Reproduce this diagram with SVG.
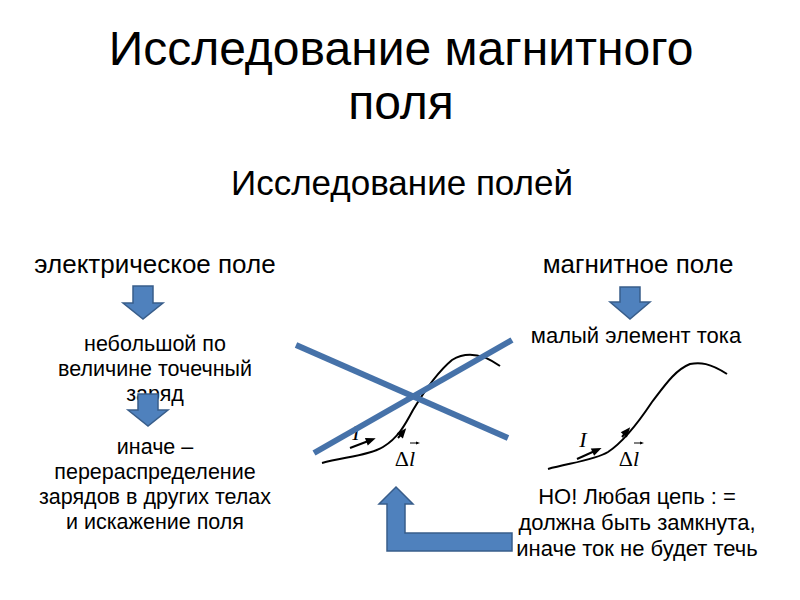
<svg xmlns="http://www.w3.org/2000/svg" width="800" height="600" viewBox="0 0 800 600">
<style>
text{font-family:"Liberation Sans",Arial,sans-serif;fill:#000;text-anchor:middle}
.t1{font-size:48px}
.t2{font-size:35px}
.t3{font-size:26px}
.t4{font-size:21.5px}
.t5{font-size:22px}
.arr{fill:#4f81bd;stroke:#385d8a;stroke-width:1.5}
.xl{stroke:#4672a9;stroke-width:6;fill:none}
.cv{stroke:#000;stroke-width:2;fill:none}
.mi{font-family:"Liberation Serif","Times New Roman",serif;font-style:italic;font-size:22px}
.md{font-family:"Liberation Serif","Times New Roman",serif;font-size:22px}
</style>
<defs>
<marker id="ah" viewBox="0 0 10 10" refX="5" refY="5" markerWidth="13" markerHeight="10" orient="auto" markerUnits="userSpaceOnUse">
<path d="M0,1 L10,5 L0,9 Z" fill="#000"/>
</marker>
<marker id="vh" viewBox="0 0 10 10" refX="5" refY="5" markerWidth="4" markerHeight="4" orient="auto" markerUnits="userSpaceOnUse">
<path d="M0,1 L10,5 L0,9 Z" fill="#000"/>
</marker>
</defs>
<rect width="800" height="600" fill="#fff"/>
<g id="title">
<text class="t1" x="401" y="65">Исследование магнитного</text>
<text class="t1" x="401" y="119">поля</text>
</g>
<g id="subtitle"><text class="t2" x="402" y="195">Исследование полей</text></g>
<g id="electric"><text class="t3" x="155" y="273">электрическое поле</text></g>
<g id="magnetic"><text class="t3" x="638" y="273">магнитное поле</text></g>
<g id="charge">
<text class="t4" x="155" y="351">небольшой по</text>
<text class="t4" x="155" y="376">величине точечный</text>
<text class="t4" x="155" y="401">заряд</text>
</g>
<g id="otherwise">
<text class="t4" x="155" y="454">иначе –</text>
<text class="t4" x="155" y="479">перераспределение</text>
<text class="t4" x="155" y="504">зарядов в других телах</text>
<text class="t4" x="155" y="529">и искажение поля</text>
</g>
<g id="element"><text class="t5" x="636" y="343">малый элемент тока</text></g>
<g id="note">
<text class="t5" x="637" y="504">НО! Любая цепь : =</text>
<text class="t5" x="637" y="530">должна быть замкнута,</text>
<text class="t5" x="637" y="556">иначе ток не будет течь</text>
</g>
<g id="connectors">
<path class="arr" d="M133,286 H153 V303 H163 L143,319 L123,303 H133 Z"/>
<path class="arr" d="M138,394 H158 V410 H168 L148,426 L128,410 H138 Z"/>
<path class="arr" d="M620,287 H640 V302 H650 L630,319 L610,302 H620 Z"/>
<path class="arr" d="M396,487 L413,504 H405 V533 H512 V551 H387 V504 H379 Z"/>
</g>
<g id="left-sketch">
<path class="cv" d="M322,463 C345,457 370,455 383,447 C398,438 405,425 413,410 C425,390 440,370 452,360 C465,352 480,352 500,366"/>
<line class="cv" x1="398" y1="438" x2="403" y2="432" marker-end="url(#ah)"/>
<line x1="350" y1="448" x2="371" y2="440" stroke="#000" stroke-width="2" marker-end="url(#ah)"/>
<text class="mi" x="356" y="440">I</text>
<text class="md" x="405" y="466">Δ<tspan font-style="italic">l</tspan></text>
<line x1="410" y1="443" x2="418" y2="443" stroke="#000" stroke-width="1" marker-end="url(#vh)"/>
<line class="xl" x1="296" y1="345" x2="508" y2="438"/>
<line class="xl" x1="314" y1="453" x2="512" y2="340"/>
</g>
<g id="right-sketch">
<path class="cv" d="M548,469 C570,463 595,460 608,452 C625,441 640,420 652,402 C665,385 675,370 690,364 C700,362 710,363 727,374"/>
<line class="cv" x1="622" y1="437" x2="627" y2="431" marker-end="url(#ah)"/>
<line x1="577" y1="459" x2="597" y2="450" stroke="#000" stroke-width="2" marker-end="url(#ah)"/>
<text class="mi" x="583" y="447">I</text>
<text class="md" x="629" y="466">Δ<tspan font-style="italic">l</tspan></text>
<line x1="634" y1="443" x2="642" y2="443" stroke="#000" stroke-width="1" marker-end="url(#vh)"/>
</g>
</svg>
